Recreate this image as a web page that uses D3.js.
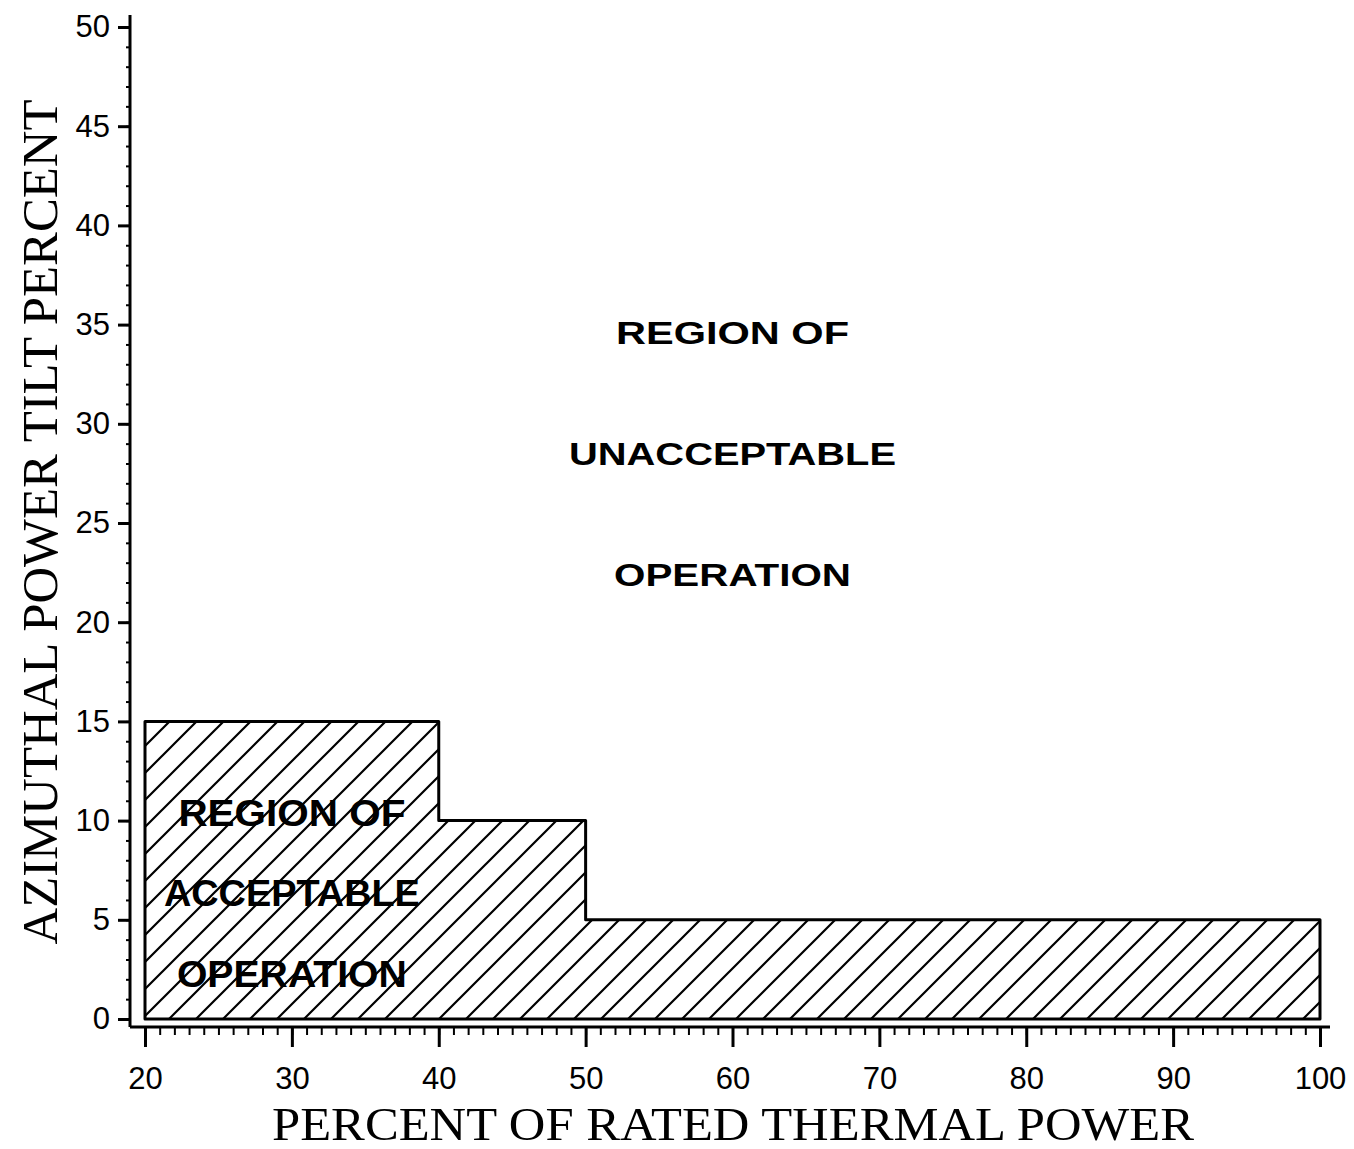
<!DOCTYPE html>
<html>
<head>
<meta charset="utf-8">
<script src="https://cdn.jsdelivr.net/npm/d3@7"></script>
<style>
  body { margin: 0; background: #fff; }
  svg { display: block; }
</style>
</head>
<body>
<svg width="1354" height="1149"></svg>
<script>
// step limits of the acceptable region
var stepStart = [20, 40, 50],
    stepEnd   = [40, 50, 100],
    tiltLimit = [15, 10, 5];

var xTicks = [20, 30, 40, 50, 60, 70, 80, 90, 100],
    yTicks = [0, 5, 10, 15, 20, 25, 30, 35, 40, 45, 50];

var upperLabel = ["REGION OF", "UNACCEPTABLE", "OPERATION"],
    lowerLabel = ["REGION OF", "ACCEPTABLE", "OPERATION"];

var svg = d3.select("svg"),
    width = +svg.attr("width"),
    height = +svg.attr("height");

var x = d3.scaleLinear().domain([20, 100]).range([145, 1320]),
    y = d3.scaleLinear().domain([0, 50]).range([1019, 27]);

var axisX = 130, axisY = 1027;

// hatch pattern
var defs = svg.append("defs");
var pat = defs.append("pattern")
    .attr("id", "hatch")
    .attr("patternUnits", "userSpaceOnUse")
    .attr("width", 27).attr("height", 27);
pat.append("path")
    .attr("d", "M0,27 L27,0 M-4,4 L4,-4 M23,31 L31,23")
    .attr("stroke", "#000")
    .attr("stroke-width", 2.2);

// build outline from the steps
var pts = [[stepStart[0], 0]];
stepStart.forEach(function(s, i) {
  pts.push([s, tiltLimit[i]]);
  pts.push([stepEnd[i], tiltLimit[i]]);
});
pts.push([stepEnd[stepEnd.length - 1], 0]);

svg.append("path")
    .attr("d", d3.line().x(function(d) { return x(d[0]); }).y(function(d) { return y(d[1]); })(pts) + "Z")
    .attr("fill", "url(#hatch)")
    .attr("stroke", "#000")
    .attr("stroke-width", 3)
    .attr("stroke-linejoin", "round");

// x axis
var gx = svg.append("g").attr("transform", "translate(0," + axisY + ")");
gx.append("line").attr("x1", axisX).attr("x2", 1330).attr("stroke", "#000").attr("stroke-width", 3);
gx.append("g")
    .call(d3.axisBottom(x).tickValues(d3.range(20, 101, 1)).tickSize(8).tickFormat(""))
    .call(function(g) { g.select(".domain").remove(); g.selectAll("line").attr("stroke-width", 2); });
gx.append("g")
    .call(d3.axisBottom(x).tickValues(xTicks).tickSize(20).tickPadding(20))
    .call(function(g) {
      g.select(".domain").remove();
      g.selectAll("line").attr("stroke-width", 3);
      g.selectAll("text")
        .attr("font-family", "Liberation Sans, Arial, sans-serif")
        .attr("font-size", 31)
        .attr("fill", "#000");
    });

// y axis
var gy = svg.append("g").attr("transform", "translate(" + axisX + ",0)");
gy.append("line").attr("y1", axisY).attr("y2", 15).attr("stroke", "#000").attr("stroke-width", 3);
gy.append("g")
    .call(d3.axisLeft(y).tickValues(d3.range(0, 51, 1)).tickSize(4).tickFormat(""))
    .call(function(g) { g.select(".domain").remove(); g.selectAll("line").attr("stroke-width", 2); });
gy.append("g")
    .call(d3.axisLeft(y).tickValues(yTicks).tickSize(12).tickPadding(8))
    .call(function(g) {
      g.select(".domain").remove();
      g.selectAll("line").attr("stroke-width", 3);
      g.selectAll("text")
        .attr("font-family", "Liberation Sans, Arial, sans-serif")
        .attr("font-size", 31)
        .attr("fill", "#000");
    });

// axis titles
svg.append("text")
    .attr("x", 733).attr("y", 1140)
    .attr("text-anchor", "middle")
    .attr("font-family", "Liberation Serif, serif")
    .attr("font-size", 46)
    .attr("textLength", 922)
    .attr("lengthAdjust", "spacingAndGlyphs")
    .text("PERCENT OF RATED THERMAL POWER");

svg.append("text")
    .attr("transform", "translate(57,522) rotate(-90)")
    .attr("text-anchor", "middle")
    .attr("font-family", "Liberation Serif, serif")
    .attr("font-size", 50)
    .attr("textLength", 845)
    .attr("lengthAdjust", "spacingAndGlyphs")
    .text("AZIMUTHAL POWER TILT PERCENT");

// region labels
var upperY = [34.6, 28.5, 22.4], upperW = [233, 327, 237];
svg.append("g").selectAll("text")
    .data(upperLabel).enter().append("text")
    .attr("x", x(60))
    .attr("y", function(d, i) { return y(upperY[i]); })
    .attr("dy", "0.36em")
    .attr("text-anchor", "middle")
    .attr("font-family", "Liberation Sans, Arial, sans-serif")
    .attr("font-weight", "bold")
    .attr("font-size", 31)
    .attr("textLength", function(d, i) { return upperW[i]; })
    .attr("lengthAdjust", "spacingAndGlyphs")
    .text(function(d) { return d; });

var lowerY = [10.4, 6.35, 2.3], lowerW = [227, 256, 230];
svg.append("g").selectAll("text")
    .data(lowerLabel).enter().append("text")
    .attr("x", x(30))
    .attr("y", function(d, i) { return y(lowerY[i]); })
    .attr("dy", "0.36em")
    .attr("text-anchor", "middle")
    .attr("font-family", "Liberation Sans, Arial, sans-serif")
    .attr("font-weight", "bold")
    .attr("font-size", 37)
    .attr("textLength", function(d, i) { return lowerW[i]; })
    .attr("lengthAdjust", "spacingAndGlyphs")
    .text(function(d) { return d; });
</script>
</body>
</html>
